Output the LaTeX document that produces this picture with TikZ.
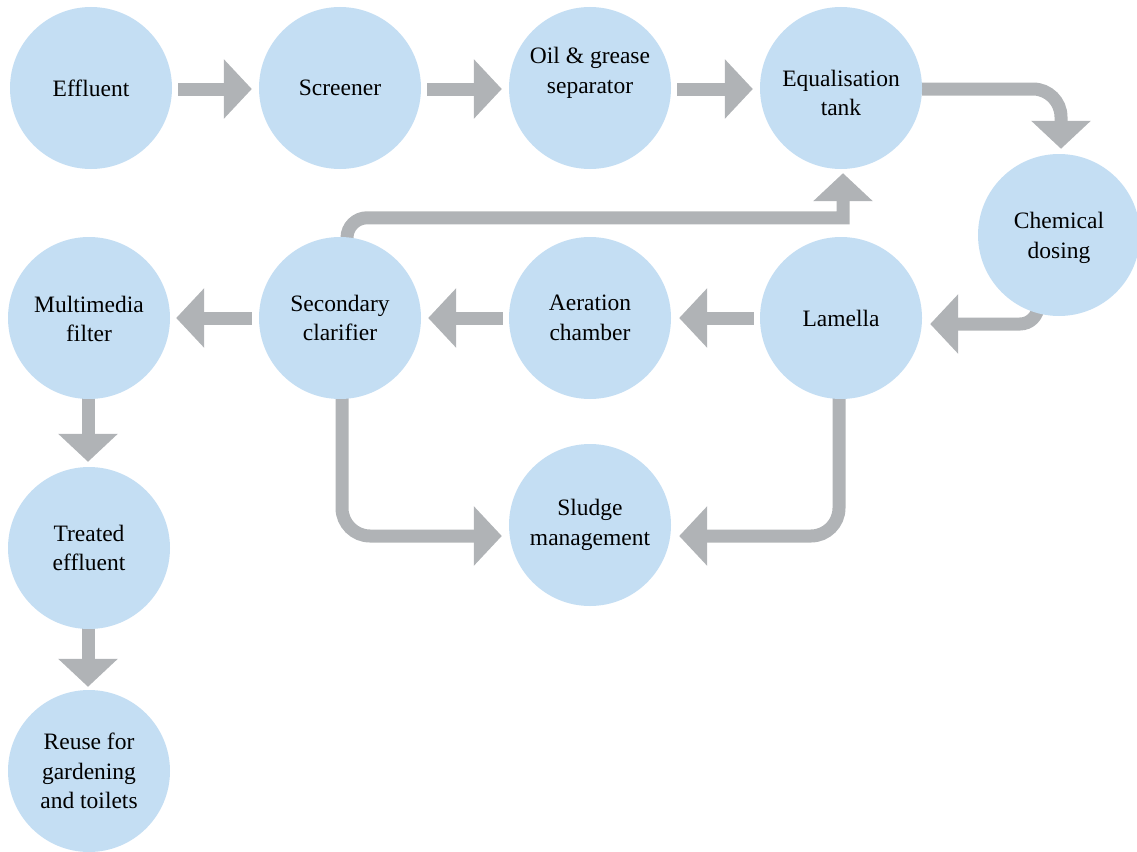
\documentclass[tikz,border=0pt]{standalone}
\usepackage{fontspec}
\setmainfont{Liberation Serif}
\usetikzlibrary{arrows.meta,calc}
\definecolor{bubblue}{RGB}{196,222,243}
\definecolor{arrgray}{RGB}{176,179,182}
\tikzset{
  bub/.style={circle,fill=bubblue,draw=none,minimum size=162pt,inner sep=0pt,
    align=center,font=\fontsize{23.5}{29.5}\selectfont},
  txt/.style={align=center,inner sep=0pt,font=\fontsize{23.5}{29.5}\selectfont},
  flow/.style={draw=arrgray,line width=13pt,
    -{Triangle[width=58pt,length=28pt]}},
}
\begin{document}
\begin{tikzpicture}[x=1pt,y=-1pt]
\useasboundingbox (0,0) rectangle (1137,851);
\pgfdeclarelayer{bg}\pgfsetlayers{bg,main}
\node[bub] (eff) at (91,88) {Effluent};
\node[bub] (scr) at (340,88) {Screener};
\node[bub] (oil) at (590,88) {};
\node[txt] (oilt) at (590,73) {Oil \& grease\\separator};
\node[bub] (equ) at (841,88) {};
\node[txt] (equt) at (841,93) {Equalisation\\tank};
\node[bub] (chem) at (1059,235) {};
\node[txt] (chemt) at (1059,238) {Chemical\\dosing};
\node[bub] (lam) at (841,318) {Lamella};
\node[bub] (aer) at (590,318) {Aeration\\chamber};
\node[bub] (sec) at (340,318) {Secondary\\clarifier};
\node[bub] (mm) at (89,318) {};
\node[txt] (mmt) at (89,319) {Multimedia\\filter};
\node[bub] (sld) at (590,525) {Sludge\\management};
\node[bub] (trt) at (89,548) {Treated\\effluent};
\node[bub] (reu) at (89,771) {Reuse for\\gardening\\and toilets};
\coordinate (fbA) at ($(sec.north)+(7,12)$);
\coordinate (fbB) at ($(sec.north)+(7,1)$);
\coordinate (fbC) at ($(sec.north)+(27,-19)$);
\coordinate (fbD) at ($(equ.south |- fbC)+(2,0)$);
\begin{pgfonlayer}{bg}
\draw[flow] ($(eff.east)+(6,1)$) -- ($(scr.west)+(-7,1)$);
\draw[flow] ($(scr.east)+(6,1)$) -- ($(oil.west)+(-7,1)$);
\draw[flow] ($(oil.east)+(6,1)$) -- ($(equ.west)+(-7,1)$);
\draw[flow,rounded corners=28pt] ($(equ.east)+(0,1)$) -| ($(chem.north)+(2,-5)$);
\draw[flow,rounded corners=18pt] ($(chem.south)+(-21,-30)$) |- ($(lam.east)+(8,6)$);
\draw[flow] ($(lam.west)+(-6,0)$) -- ($(aer.east)+(8,0)$);
\draw[flow] ($(aer.west)+(-6,0)$) -- ($(sec.east)+(7,0)$);
\draw[flow] ($(sec.west)+(-7,0)$) -- ($(mm.east)+(6,0)$);
\draw[flow,rounded corners=28pt] ($(lam.south)+(-2,-2)$) |- ($(sld.east)+(8,11)$);
\draw[flow,rounded corners=28pt] ($(sec.south)+(2,-2)$) |- ($(sld.west)+(-7,11)$);
\draw[flow] (fbA) -- (fbB) .. controls ($(fbB)+(0,-11)$) and ($(fbC)+(-11,0)$) .. (fbC)
  -- (fbD) -- ($(equ.south)+(2,4)$);
\draw[flow] ($(mm.south)+(-1,-1)$) -- ($(trt.north)+(-1,-5)$);
\draw[flow] ($(trt.south)+(-1,-1)$) -- ($(reu.north)+(-1,-3)$);
\end{pgfonlayer}
\end{tikzpicture}
\end{document}
